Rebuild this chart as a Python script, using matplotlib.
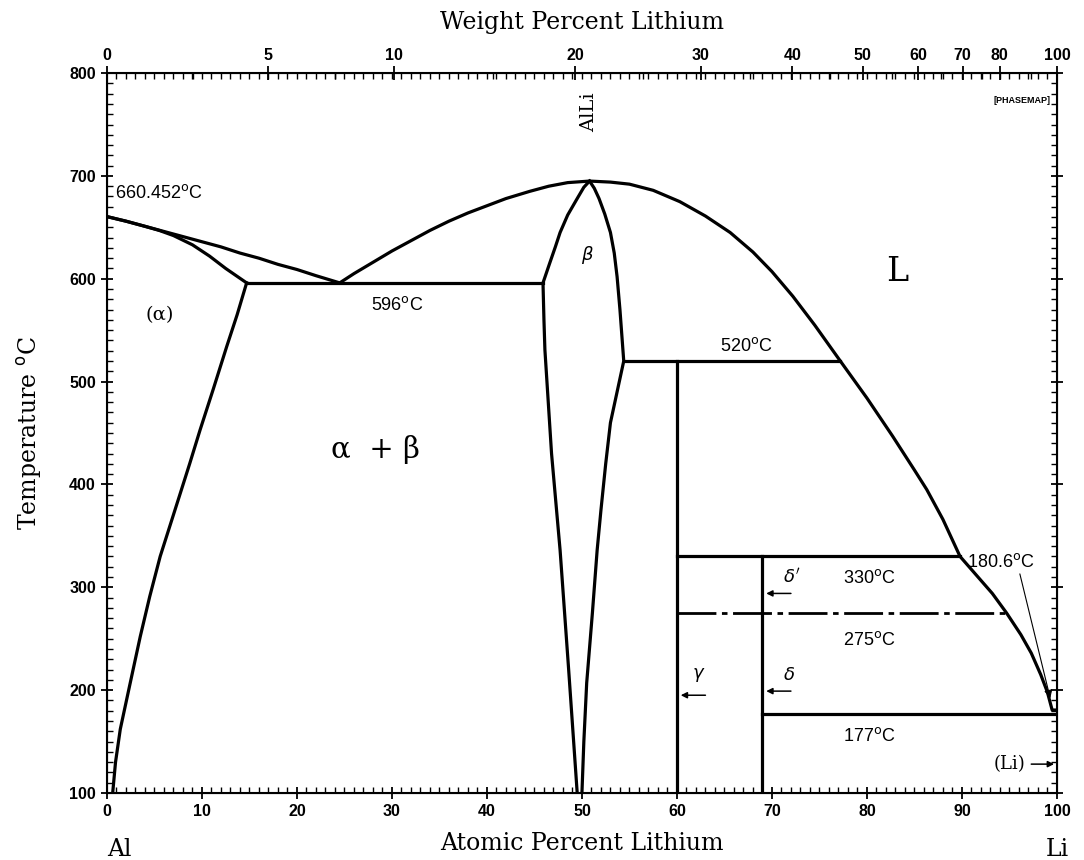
import numpy as np
import matplotlib.pyplot as plt
from matplotlib.ticker import MultipleLocator

# ---- phase boundary data (atomic % Li, temperature C) ----
liq_al_x = [0, 2, 4, 6, 8, 10, 12, 14, 16, 18, 20, 22, 24.5]
liq_al_T = [660.452, 656, 651, 646, 641, 636, 631, 625, 620, 614, 609, 603, 596]

sol_al_x = [0, 2, 4, 5.5, 7, 9, 10.8, 12.5, 14.7]
sol_al_T = [660.452, 656, 651, 647, 642, 633, 622, 610, 596]

solvus_x = [14.7, 13.7, 12.6, 11.2, 9.8, 8.7, 7.6, 6.6, 5.6, 4.5, 3.5, 2.4,
            1.4, 0.9, 0.6]
solvus_T = [596, 565, 534, 493, 453, 420, 388, 359, 330, 291, 252, 205,
            162, 130, 100]

liq_x = [24.5, 26, 28, 30, 32, 34, 36, 38, 40, 42, 44.5, 46.5, 48.5, 50.8,
         53, 55, 57.5, 60.3, 63, 65.6, 68, 70, 72.2, 74.5, 77.2, 80, 82.7,
         85, 86.3, 88, 89.8, 91.5, 93.2, 94.7, 96.2, 97.3, 98.3, 99, 99.5,
         100]
liq_T = [596, 605, 616, 627, 637, 647, 656, 664, 671, 678, 685, 690, 693.5,
         695, 694, 692, 686, 675, 661, 645, 626, 607, 583, 555, 520, 484,
         447, 414, 395, 366, 330, 312, 294, 275, 254, 236, 215, 198, 180.6,
         180.6]

beta_left_x = [49.5, 48.6, 47.7, 46.8, 46.1, 46.0, 45.9, 46.6, 47.2, 47.7,
               48.5, 49.5, 50.2, 50.8]
beta_left_T = [100, 220, 336, 430, 531, 560, 596, 615, 631, 645, 662, 678,
               689, 695]

beta_right_x = [50.8, 51.3, 51.8, 52.4, 53.0, 53.4, 53.7, 54.0, 54.4, 53.7,
                53.0, 52.5, 52.0, 51.6, 51.1, 50.5, 50.2, 50.0]
beta_right_T = [695, 688, 678, 663, 645, 625, 602, 570, 520, 490, 460, 420,
                375, 336, 275, 207, 150, 100]

# invariant lines: (x_start, x_end, T)
eutectic = (14.7, 45.9, 596)
peritectic_520 = (54.4, 77.2, 520)
line_330 = (60, 89.8, 330)
line_275 = (60, 94.7, 275)
line_177 = (69, 100, 177)

# compound verticals: (x, T_top, T_bottom)
gamma_line = (60, 520, 100)
delta_line = (69, 330, 100)

wt_major = [0, 5, 10, 20, 30, 40, 50, 60, 70, 80, 100]
wt_mid = [2.5, 7.5, 15, 25, 35, 45, 55, 65, 75, 90]

M_LI, M_AL = 6.941, 26.9815


def wt_to_at(w):
    w = np.asarray(w, dtype=float)
    nli = w / M_LI
    nal = (100 - w) / M_AL
    return 100 * nli / (nli + nal)


serif = 'DejaVu Serif'
sans = 'Liberation Sans'
lbl_size = 13

fig = plt.figure(figsize=(10.84, 8.6), dpi=100)
ax = fig.add_axes([0.0987, 0.078, 0.8763, 0.837])
lw = 2.3
k = 'black'

ax.plot(liq_al_x, liq_al_T, color=k, lw=lw)
ax.plot(sol_al_x, sol_al_T, color=k, lw=lw)
ax.plot(solvus_x, solvus_T, color=k, lw=lw)
ax.plot(liq_x, liq_T, color=k, lw=lw)
ax.plot(beta_left_x, beta_left_T, color=k, lw=lw)
ax.plot(beta_right_x, beta_right_T, color=k, lw=lw)

for x0, x1, T in [eutectic, peritectic_520, line_330, line_177]:
    ax.plot([x0, x1], [T, T], color=k, lw=lw)
ax.plot([line_275[0], line_275[1]], [line_275[2]] * 2, color=k, lw=2.0,
        linestyle=(0, (14, 2, 2, 2)))
for x, t0, t1 in [gamma_line, delta_line]:
    ax.plot([x, x], [t0, t1], color=k, lw=lw)

ax.set_xlim(0, 100)
ax.set_ylim(100, 800)
ax.xaxis.set_major_locator(MultipleLocator(10))
ax.xaxis.set_minor_locator(MultipleLocator(1))
ax.yaxis.set_major_locator(MultipleLocator(100))
ax.yaxis.set_minor_locator(MultipleLocator(10))
ax.tick_params(which='major', direction='inout', length=9, width=1.3,
               labelsize=11.5, right=True)
ax.tick_params(which='minor', direction='in', length=4, width=1.0, right=True)
for lab in ax.get_xticklabels() + ax.get_yticklabels():
    lab.set_fontfamily(sans)
    lab.set_fontweight('bold')
for s in ax.spines.values():
    s.set_linewidth(1.5)

# top axis in weight percent
top = ax.twiny()
top.set_xlim(0, 100)
top.set_xticks(wt_to_at(wt_major))
top.set_xticklabels([str(w) for w in wt_major], fontfamily=sans,
                    fontweight='bold', fontsize=11.5)
top.set_xticks(np.concatenate([wt_to_at(wt_mid), np.arange(1, 100, 1.0)]),
               minor=True)
top.tick_params(which='major', direction='inout', length=10, width=1.3, pad=2)
top.tick_params(which='minor', direction='in', length=4, width=1.0)
top.set_xlabel('Weight Percent Lithium', fontfamily=serif, fontsize=17,
               labelpad=14)

ax.set_xlabel('Atomic Percent Lithium', fontfamily=serif, fontsize=17,
              labelpad=9)
ax.set_ylabel('Temperature $^{\\rm o}$C', fontfamily=serif, fontsize=17,
              labelpad=18)
ax.text(0, -0.078, 'Al', transform=ax.transAxes, fontfamily=serif,
        fontsize=17, ha='left', va='center')
ax.text(1.0, -0.078, 'Li', transform=ax.transAxes, fontfamily=serif,
        fontsize=17, ha='center', va='center')

# region and temperature labels
ax.text(0.8, 679, '660.452$^{\\rm o}$C', fontfamily=sans, fontsize=lbl_size)
ax.text(5.5, 565, '(α)', fontfamily=serif, fontsize=14, ha='center',
        va='center')
ax.text(27.8, 574, '596$^{\\rm o}$C', fontfamily=sans, fontsize=lbl_size,
        va='center')
ax.text(28.3, 434, 'α  + β', fontfamily=serif, fontsize=21,
        ha='center', va='center')
ax.text(50.6, 623, '$\\beta$', fontfamily=serif, fontsize=13, ha='center',
        va='center')
ax.text(50.8, 762, 'AlLi', fontfamily=serif, fontsize=14, rotation=90,
        ha='center', va='center')
ax.text(83.2, 607, 'L', fontfamily=serif, fontsize=24, ha='center',
        va='center')
ax.text(64.5, 535, '520$^{\\rm o}$C', fontfamily=sans, fontsize=lbl_size,
        va='center')
ax.text(77.5, 309, '330$^{\\rm o}$C', fontfamily=sans, fontsize=lbl_size,
        va='center')
ax.text(77.5, 249, '275$^{\\rm o}$C', fontfamily=sans, fontsize=lbl_size,
        va='center')
ax.text(77.5, 155, '177$^{\\rm o}$C', fontfamily=sans, fontsize=lbl_size,
        va='center')
ax.text(90.5, 325, '180.6$^{\\rm o}$C', fontfamily=sans, fontsize=lbl_size,
        va='center')
ax.text(99.3, 773, '[PHASEMAP]', fontfamily=sans, fontsize=6.5,
        fontweight='bold', ha='right', va='center')

# phase labels with arrows
ax.text(71.2, 310, "$\\delta'$", fontfamily=serif, fontsize=13,
        va='center')
ax.text(71.2, 215, '$\\delta$', fontfamily=serif, fontsize=13, va='center')
ax.text(61.6, 215, '$\\gamma$', fontfamily=serif, fontsize=13, va='center')
ax.text(96.7, 128, '(Li)', fontfamily=serif, fontsize=13, ha='right',
        va='center')
arrow = dict(arrowstyle='-|>', color=k, lw=1.1, mutation_scale=9,
             shrinkA=0, shrinkB=0)
ax.annotate('', xy=(69.4, 294), xytext=(72.0, 294), arrowprops=arrow)
ax.annotate('', xy=(69.4, 199), xytext=(72.0, 199), arrowprops=arrow)
ax.annotate('', xy=(60.4, 195), xytext=(63.0, 195), arrowprops=arrow)
ax.annotate('', xy=(99.7, 128), xytext=(97.3, 128), arrowprops=arrow)
ax.annotate('', xy=(99.3, 192), xytext=(96.1, 313),
            arrowprops=dict(arrowstyle='-|>', color=k, lw=0.8,
                            mutation_scale=12, shrinkA=0, shrinkB=0))

fig.savefig('out.png', dpi=100)
